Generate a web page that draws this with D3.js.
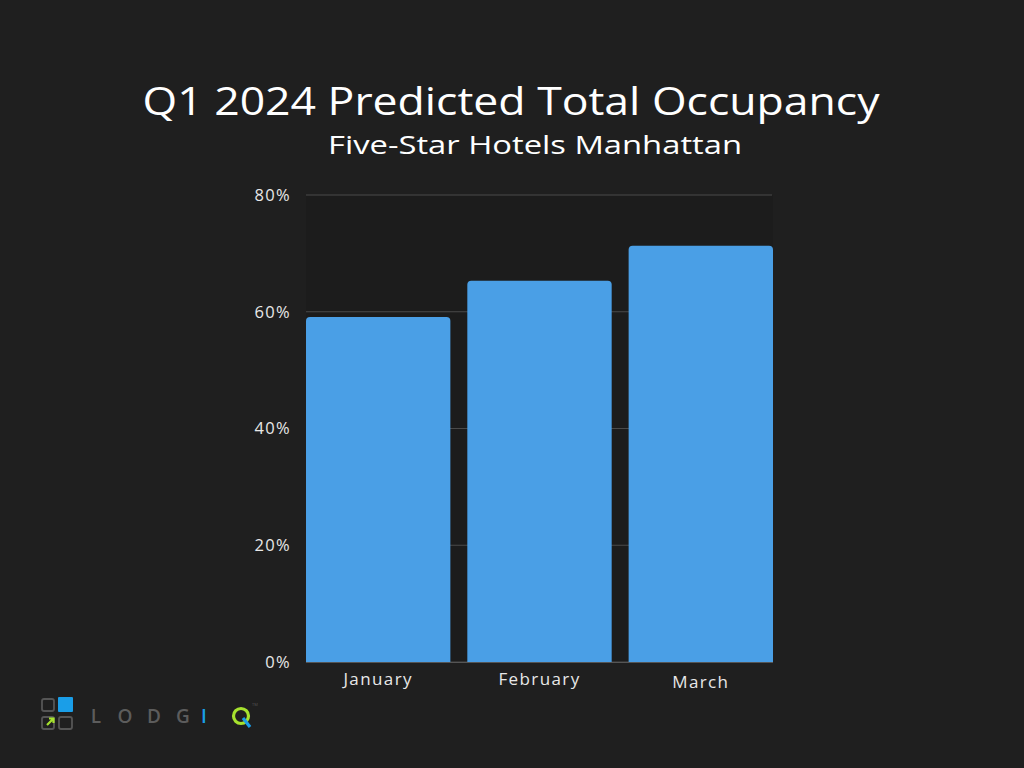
<!DOCTYPE html>
<html><head><meta charset="utf-8">
<script src="https://cdn.jsdelivr.net/npm/d3@7"></script>
<style>
html,body{margin:0;padding:0;background:#1f1f1f;}
svg{display:block;}
</style></head>
<body>
<svg id="chart" width="1024" height="768"></svg>
<script>
const months = ["January", "February", "March"];
const occupancy = [0.591, 0.653, 0.713];
const yTicks = [0, 0.2, 0.4, 0.6, 0.8];
const titleText = "Q1 2024 Predicted Total Occupancy";
const subtitleText = "Five-Star Hotels Manhattan";

const font = "'Open Sans', sans-serif";
const svg = d3.select("#chart");
svg.append("rect").attr("width",1024).attr("height",768).attr("fill","#1f1f1f");

const m = {left:306, right:773, top:195, bottom:662};
const x = d3.scaleBand().domain(months).range([m.left, m.right]).paddingInner(0.105).paddingOuter(0);
const y = d3.scaleLinear().domain([0,0.8]).range([m.bottom, m.top]);

svg.append("rect").attr("x",m.left).attr("y",m.top).attr("width",m.right-m.left).attr("height",m.bottom-m.top).attr("fill","#1c1c1c");

// grid
svg.append("g").selectAll("line").data(yTicks).join("line")
  .attr("x1",m.left).attr("x2",m.right-1)
  .attr("y1",d=>y(d)).attr("y2",d=>y(d))
  .attr("stroke","#4a4a4a").attr("stroke-width",1);

// y axis labels
const yAxis = d3.axisLeft(y).tickValues(yTicks).tickFormat(d3.format(".0%")).tickSize(0).tickPadding(0);
const ya = svg.append("g").attr("transform",`translate(${m.left-15},0)`).call(yAxis);
ya.select(".domain").remove();
ya.selectAll("text").attr("fill","#e8e8e8").style("font-family",font).style("font-size","16.5px").style("letter-spacing","1.3px");

// bars
function barPath(x0,y0,w,h,r){
  return `M${x0},${y0+h}V${y0+r}Q${x0},${y0} ${x0+r},${y0}H${x0+w-r}Q${x0+w},${y0} ${x0+w},${y0+r}V${y0+h}Z`;
}
svg.append("g").selectAll("path").data(months).join("path")
  .attr("d",(d,i)=>barPath(x(d), y(occupancy[i]), x.bandwidth(), y(0)-y(occupancy[i]), 4))
  .attr("fill","#4a9fe6");

// x axis
svg.append("line").attr("x1",m.left).attr("x2",m.right).attr("y1",m.bottom+0.5).attr("y2",m.bottom+0.5).attr("stroke","#555");
const xAxis = d3.axisBottom(x).tickSize(0).tickPadding(11);
const xa = svg.append("g").attr("transform",`translate(0,${m.bottom})`).call(xAxis);
xa.select(".domain").remove();
xa.selectAll("text").attr("fill","#e8e8e8").style("font-family",font).style("font-size","17px").style("letter-spacing","1.4px")
  .attr("dy",(d,i)=> i===2 ? "0.86em" : "0.72em");

// titles
svg.append("text").attr("x",511).attr("y",115).attr("text-anchor","middle")
  .attr("fill","#ffffff").style("font-family",font).style("font-size","38px").style("font-weight","400")
  .attr("textLength",737).attr("lengthAdjust","spacingAndGlyphs")
  .text(titleText);
svg.append("text").attr("x",535).attr("y",154).attr("text-anchor","middle")
  .attr("fill","#ffffff").style("font-family",font).style("font-size","26px").style("font-weight","400")
  .attr("textLength",414).attr("lengthAdjust","spacingAndGlyphs")
  .text(subtitleText);

// logo
const lg = svg.append("g");
lg.append("rect").attr("x",42).attr("y",699).attr("width",12).attr("height",12).attr("rx",2).attr("fill","none").attr("stroke","#555").attr("stroke-width",1.8);
lg.append("rect").attr("x",58).attr("y",697).attr("width",15).attr("height",15).attr("rx",1).attr("fill","#1a9ee8");
lg.append("rect").attr("x",42).attr("y",717).attr("width",12).attr("height",12).attr("rx",2).attr("fill","none").attr("stroke","#555").attr("stroke-width",1.8);
lg.append("rect").attr("x",59).attr("y",717).attr("width",13).attr("height",12).attr("rx",2).attr("fill","none").attr("stroke","#555").attr("stroke-width",1.8);
lg.append("path").attr("d","M47,725 L53,719 M49,718.5 H53.5 V723").attr("stroke","#a6e22e").attr("stroke-width",2.2).attr("fill","none");
const letters = [["L","#5c5c5c",96],["O","#5c5c5c",125],["D","#5c5c5c",154],["G","#5c5c5c",183],["I","#1a9ee8",204]];
letters.forEach(l=>{
  lg.append("text").attr("x",l[2]).attr("y",723).attr("text-anchor","middle").attr("fill",l[1])
    .style("font-family",font).style("font-size","19px").style("font-weight","600").text(l[0]);
});
lg.append("circle").attr("cx",241).attr("cy",716).attr("r",7.5).attr("fill","none").attr("stroke","#a6e22e").attr("stroke-width",3.2);
lg.append("path").attr("d","M243,718 L250,727").attr("stroke","#1a9ee8").attr("stroke-width",3.2);
lg.append("text").attr("x",252).attr("y",706).attr("fill","#555").style("font-family",font).style("font-size","4px").text("TM");
</script>
</body></html>
